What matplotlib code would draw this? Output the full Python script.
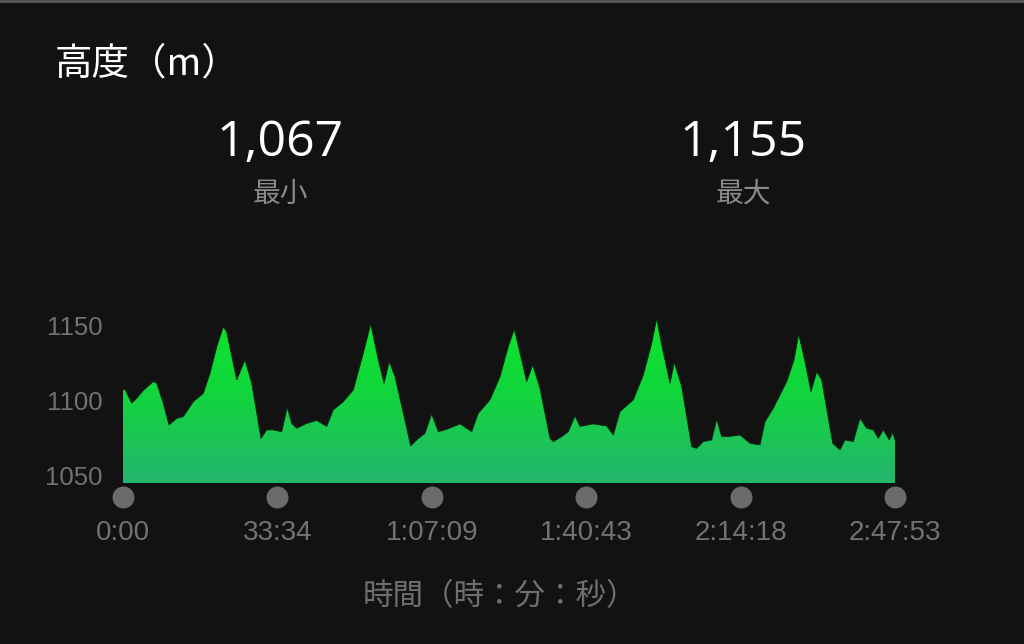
import numpy as np
import matplotlib.pyplot as plt
from matplotlib.colors import LinearSegmentedColormap

plt.rcParams['font.family'] = ['Noto Sans CJK JP', 'DejaVu Sans']

# elapsed time (minutes) and altitude (m)
minutes = [0.0, 0.43, 1.89, 2.98, 4.41, 6.59, 7.33, 8.76, 10.0, 11.68, 13.11, 15.29, 17.46,
           18.92, 20.38, 21.81, 22.55, 24.73, 26.53, 27.99, 30.01, 31.25, 32.69, 34.51,
           35.73, 36.69, 37.77, 39.95, 42.12, 44.30, 45.73, 47.91, 50.08, 52.26, 53.87,
           55.52, 56.76, 57.91, 59.15, 60.96, 62.57, 63.87, 65.68, 67.13, 68.57, 70.40,
           73.29, 75.83, 77.27, 79.81, 81.99, 83.79, 85.10, 86.34, 87.79, 89.10, 90.68,
           92.86, 93.58, 95.40, 96.84, 98.30, 99.38, 102.28, 105.19, 106.63, 108.08,
           110.97, 113.15, 114.98, 116.06, 117.15, 118.96, 119.89, 121.50, 123.67, 124.76,
           126.20, 128.03, 129.11, 130.20, 131.63, 134.18, 136.36, 138.53, 139.62, 141.42,
           144.34, 145.92, 146.94, 148.31, 149.62, 150.86, 151.94, 154.34, 155.92, 157.01,
           158.82, 160.27, 161.73, 163.17, 164.25, 165.34, 166.64, 167.38, 167.88]
altitude = [1107.3, 1107.8, 1098.5, 1101.8, 1107.0, 1112.9, 1111.8, 1098.5, 1084.0, 1088.4,
            1089.5, 1099.5, 1105.0, 1118.4, 1136.0, 1149.5, 1146.0, 1114.0, 1127.3, 1111.8,
            1075.0, 1080.7, 1080.7, 1079.5, 1095.8, 1085.0, 1081.8, 1085.0, 1087.0, 1083.0,
            1094.0, 1099.5, 1107.3, 1131.8, 1151.3, 1127.3, 1111.8, 1126.2, 1116.2, 1091.8,
            1070.0, 1074.0, 1078.4, 1091.3, 1079.5, 1081.1, 1084.7, 1079.5, 1091.8, 1100.7,
            1116.2, 1136.2, 1147.8, 1131.8, 1112.9, 1124.0, 1108.4, 1075.0, 1072.9, 1076.2,
            1079.5, 1090.0, 1083.0, 1084.7, 1083.3, 1077.3, 1092.9, 1100.7, 1117.3, 1138.4,
            1155.0, 1137.3, 1111.8, 1125.8, 1109.5, 1069.5, 1068.4, 1072.9, 1074.0, 1087.8,
            1076.2, 1076.2, 1077.3, 1071.8, 1070.7, 1086.2, 1095.1, 1112.9, 1127.3, 1144.5,
            1126.2, 1106.2, 1119.5, 1114.0, 1071.8, 1067.3, 1074.0, 1072.9, 1088.4, 1081.8,
            1080.7, 1075.0, 1080.7, 1074.0, 1078.9, 1074.0]

tick_minutes = [0, 33.567, 67.15, 100.717, 134.3, 167.883]
tick_labels = ['0:00', '33:34', '1:07:09', '1:40:43', '2:14:18', '2:47:53']
y_ticks = [1050, 1100, 1150]
stat_values = ['1,067', '1,155']
stat_names = ['最小', '最大']

bg = '#121212'
gray = '#727272'
latin = ['Liberation Sans', 'DejaVu Sans']

fig = plt.figure(figsize=(10.24, 6.44), dpi=100, facecolor=bg)
ax = fig.add_axes([123 / 1024, 1 - 483 / 644, 772 / 1024, 183 / 644])
ax.set_facecolor(bg)
ymin, ymax = 1045.3, 1167.3
ax.set_xlim(0, tick_minutes[-1])
ax.set_ylim(ymin, ymax)

# gradient fill clipped to the area under the profile
poly = ax.fill_between(minutes, altitude, ymin, facecolor='none', edgecolor='none')
cmap = LinearSegmentedColormap.from_list('g', ['#25b56f', '#13d33f', '#0be52a'])
grad = np.linspace(0, 1, 256).reshape(-1, 1)
im = ax.imshow(grad, cmap=cmap, origin='lower', aspect='auto',
               extent=[0, tick_minutes[-1], ymin, 1155], zorder=2)
im.set_clip_path(poly.get_paths()[0], transform=ax.transData)
ax.plot(minutes, altitude, color='#0c2a12', lw=0.6, zorder=3)

for s in ax.spines.values():
    s.set_visible(False)

ax.set_yticks(y_ticks)
ax.set_yticklabels([str(v) for v in y_ticks], family=latin)
ax.tick_params(axis='y', length=0, pad=15, labelsize=18.5, labelcolor=gray)
ax.set_xticks(tick_minutes)
ax.set_xticklabels(tick_labels, family=latin)
ax.tick_params(axis='x', length=0, pad=27, labelsize=20, labelcolor=gray)

# dots under the x ticks
ax.scatter(tick_minutes, [-0.077] * len(tick_minutes), s=250, color='#6b6b6b',
           transform=ax.get_xaxis_transform(), clip_on=False, zorder=4, linewidths=0)

fig.text(55 / 1024, 1 - 64 / 644, '高度（m）', color='white', fontsize=27,
         ha='left', va='center')
for xc, v, n in zip([280, 743], stat_values, stat_names):
    fig.text(xc / 1024, 1 - 143 / 644, v, color='white', fontsize=36,
             ha='center', va='center', family=['Open Sans', 'DejaVu Sans'])
    fig.text(xc / 1024, 1 - 194 / 644, n, color='#8a8a8a', fontsize=20,
             ha='center', va='center')
fig.text(500 / 1024, 1 - 597 / 644, '時間（時：分：秒）', color='#6f6f6f', fontsize=22,
         ha='center', va='center')

fig.add_artist(plt.Line2D([0, 1], [1 - 1 / 644, 1 - 1 / 644], color='#5a5a5a', lw=2))

fig.savefig('out.png', dpi=100, facecolor=bg)
